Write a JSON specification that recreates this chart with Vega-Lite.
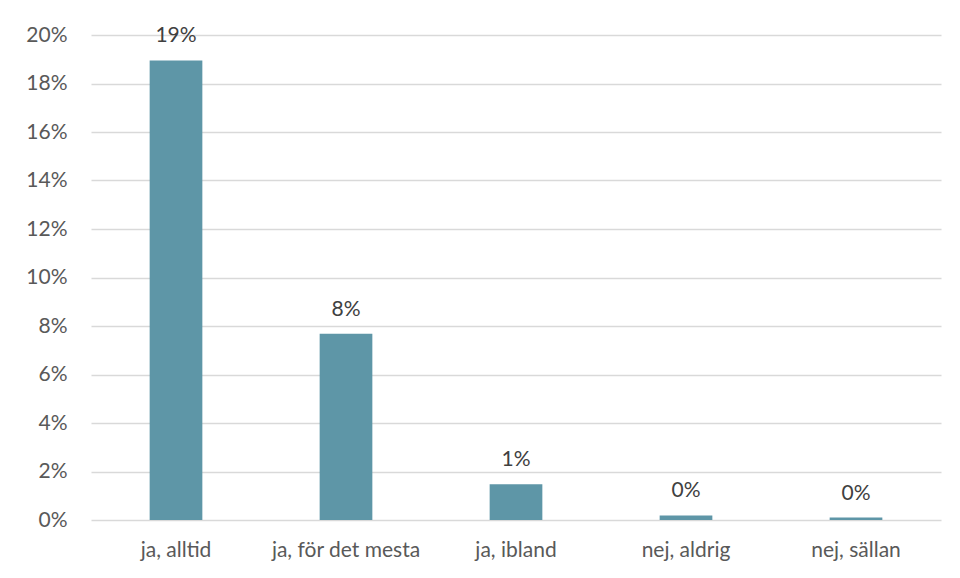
{
  "$schema": "https://vega.github.io/schema/vega-lite/v6.json",
  "width": 850,
  "height": 485,
  "autosize": {"type": "none"},
  "padding": {"left": 91, "top": 35, "right": 19, "bottom": 58},
  "background": "#ffffff",
  "config": {
    "view": {"stroke": null},
    "font": "Lato",
    "axis": {
      "labelFont": "Lato",
      "labelFontSize": 21,
      "labelColor": "#595959",
      "gridColor": "#d9d9d9",
      "gridWidth": 1.5,
      "domain": false,
      "ticks": false,
      "title": null
    }
  },
  "data": {
    "values": [
      {"svar": "ja, alltid", "andel": 0.1895},
      {"svar": "ja, för det mesta", "andel": 0.0768},
      {"svar": "ja, ibland", "andel": 0.0147},
      {"svar": "nej, aldrig", "andel": 0.0019},
      {"svar": "nej, sällan", "andel": 0.001}
    ]
  },
  "encoding": {
    "x": {
      "field": "svar",
      "type": "nominal",
      "sort": null,
      "scale": {"paddingInner": 0.69, "paddingOuter": 0.345},
      "axis": {"labelAngle": 0, "labelPadding": 19, "labelBaseline": "top"}
    },
    "y": {
      "field": "andel",
      "type": "quantitative",
      "scale": {"domain": [0, 0.2], "nice": false},
      "axis": {
        "values": [0, 0.02, 0.04, 0.06, 0.08, 0.1, 0.12, 0.14, 0.16, 0.18, 0.2],
        "format": ".0%",
        "labelPadding": 24,
        "grid": true
      }
    }
  },
  "layer": [
    {"mark": {"type": "bar", "color": "#5e96a7"}},
    {
      "mark": {"type": "text", "baseline": "alphabetic", "dy": -18, "fontSize": 21, "color": "#404040", "font": "Lato"},
      "encoding": {"text": {"field": "andel", "type": "quantitative", "format": ".0%"}}
    }
  ]
}
